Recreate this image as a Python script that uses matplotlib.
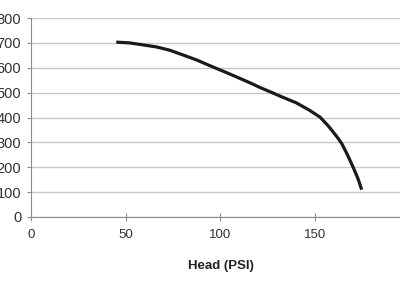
import matplotlib.pyplot as plt

# pump curve
head_psi = [45, 52, 59, 66, 73, 80, 87.5, 94.5, 103, 110, 116, 121, 126, 133,
            140, 147, 152.6, 157, 161.4, 164, 167, 170, 172.5, 174.5]
flow = [703, 700, 692, 684, 671, 652, 631, 608, 581, 558, 538, 520, 504, 481,
        459, 429, 401, 365, 323, 295, 250, 200, 155, 110]

x_ticks = [0, 50, 100, 150]
y_ticks = [0, 100, 200, 300, 400, 500, 600, 700, 800]

plt.rcParams['font.family'] = ['Liberation Sans', 'DejaVu Sans']

fig = plt.figure(figsize=(4, 2.84), dpi=100)
ax = fig.add_axes([31/400, 67/284, 379/400, 199/284])

ax.plot(head_psi, flow, color='#1a1a1a', lw=2.3, solid_capstyle='butt',
        solid_joinstyle='round', zorder=3)

ax.set_xlim(0, 200)
ax.set_ylim(0, 800)
ax.set_xticks(x_ticks)
ax.set_yticks(y_ticks)
ax.yaxis.grid(True, color='#c8c8c8', lw=1)
ax.set_axisbelow(True)

for s in ['top', 'right']:
    ax.spines[s].set_visible(False)
ax.spines['left'].set_color('#8c8c8c')
ax.spines['bottom'].set_color('#8c8c8c')

ax.tick_params(axis='x', direction='inout', length=6, color='#8c8c8c',
               labelsize=9.5, labelcolor='#333333', pad=6)
ax.tick_params(axis='y', direction='out', length=3, color='#8c8c8c',
               labelsize=10.5, labelcolor='#333333', pad=4)

ax.set_xlabel('Head (PSI)', fontsize=9.5, fontweight='bold', color='#222222', labelpad=13)

fig.savefig('out.png', dpi=100)
